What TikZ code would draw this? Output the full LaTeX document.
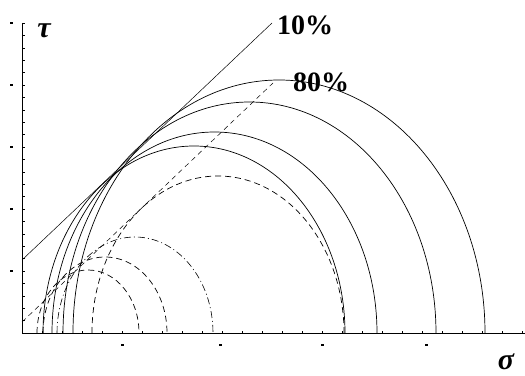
\documentclass[tikz,border=0pt]{standalone}
\usepackage{fontspec}
\setmainfont{Liberation Serif}
\usepackage{tikz}
\usetikzlibrary{arrows.meta,positioning,calc}

\tikzset{
  axisline/.style={line width=0.9pt},
  envelope/.style={line width=0.5pt},
  mohr/.style={line width=0.7pt},
  mohrdash/.style={line width=0.7pt,dash pattern=on 6pt off 4pt},
  mohrdashdot/.style={line width=0.6pt,dash pattern=on 7pt off 3pt on 1pt off 3pt},
  pct/.style={font=\fontsize{28}{28}\selectfont\bfseries,inner sep=0pt},
  axlabel/.style={font=\fontsize{30}{30}\selectfont\bfseries\itshape,inner sep=0pt}
}

\begin{document}
\begin{tikzpicture}[x=1pt,y=1pt]
\useasboundingbox (-22,-42) rectangle (503,333);
% axes with fine ticks
\draw[axisline] (0,310) -- (0,0) -- (503,0);
\foreach \k in {1,...,25}{
  \draw[line width=0.5pt] (0,\k*12.4) -- (2.5,\k*12.4);
  \draw[line width=0.5pt] (\k*20,0) -- (\k*20,2.5);
}
% faint tick marks of the scan
\foreach \t in {62,124,186,248,310}{
  \fill (-12.5,\t-1) rectangle (-9.5,\t+1);
}
\foreach \s in {100,198,300,404}{
  \fill (\s-1.5,-13) rectangle (\s+1.5,-11);
}
% envelopes
\draw[envelope] (0,73) -- (250,310);
\draw[envelope,dash pattern=on 5pt off 4pt] (0,11) -- (251,250);
% Mohr circles, 10%
\foreach \l/\rx/\ry in {21/151/187,30/162.5/201,41/186.5/231,51/206/253}{
  \draw[mohr] (\l,0) arc[start angle=180,end angle=0,x radius=\rx pt,y radius=\ry pt];
}
% Mohr circles, 80%
\foreach \l/\rx/\ry in {15/51/63,21/62/76,70/126/157}{
  \draw[mohrdash] (\l,0) arc[start angle=180,end angle=0,x radius=\rx pt,y radius=\ry pt];
}
\draw[mohrdashdot] (35,0) arc[start angle=180,end angle=0,x radius=78pt,y radius=96pt];
% labels
\node[axlabel] (tau) at (22,302) {τ};
\node[axlabel] (sigma) at (484,-29) {σ};
\node[pct,anchor=west] (ten) at (255,308) {10\%};
\node[pct,anchor=west] (eighty) at (271,251) {80\%};
\end{tikzpicture}
\end{document}
